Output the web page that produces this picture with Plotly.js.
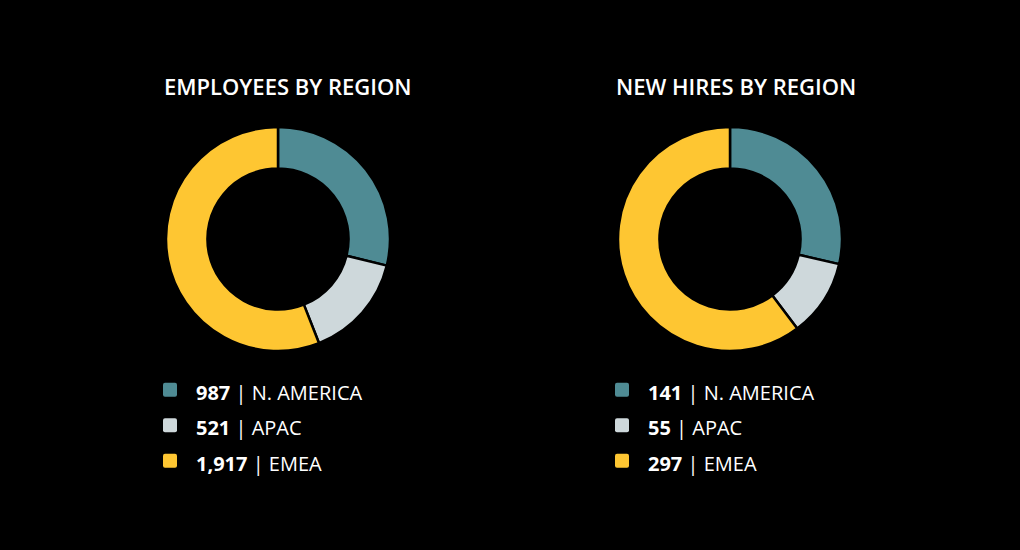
<!DOCTYPE html>
<html>
<head>
<meta charset="utf-8">
<script src="https://cdn.plot.ly/plotly-3.0.1.min.js"></script>
<style>html,body{margin:0;padding:0;background:#000;}#chart{width:1020px;height:550px;}</style>
</head>
<body>
<div id="chart"></div>
<script>
const regions = ["N. AMERICA", "APAC", "EMEA"];
const employees = [987, 521, 1917];
const newHires = [141, 55, 297];
const chartTitles = ["EMPLOYEES BY REGION", "NEW HIRES BY REGION"];
const colors = ["#4f8b94", "#ced8db", "#fec632"];

const FONT = "'Open Sans', 'Noto Sans', sans-serif";
function fmt(v) { return v.toLocaleString('en-US'); }
function mkLabels(vals) {
  return vals.map((v, i) => '<span style="font-size:20px"><b>' + fmt(v) + '</b> | ' + regions[i] + '</span>');
}
function mkTrace(vals, dom, legend) {
  return {
    type: 'pie',
    labels: mkLabels(vals),
    values: vals,
    sort: false,
    direction: 'clockwise',
    rotation: 0,
    hole: 0.63,
    textinfo: 'none',
    hoverinfo: 'skip',
    marker: { colors: colors, line: { color: '#000', width: 2.5 } },
    domain: dom,
    legend: legend
  };
}
const W = 1020, H = 550;
function dom(cx, cy, r) {
  return { x: [(cx - r) / W, (cx + r) / W], y: [1 - (cy + r) / H, 1 - (cy - r) / H] };
}
const data = [
  mkTrace(employees, dom(278, 239, 112), 'legend'),
  mkTrace(newHires, dom(730, 239, 112), 'legend2')
];
const legendBase = {
  bgcolor: 'rgba(0,0,0,0)',
  font: { family: FONT, size: 25, color: '#ffffff' },
  xanchor: 'left', yanchor: 'top', orientation: 'v', itemclick: false, itemdoubleclick: false,
  itemwidth: 42
};
const layout = {
  width: W, height: H,
  margin: { l: 0, r: 0, t: 0, b: 0 },
  paper_bgcolor: '#000', plot_bgcolor: '#000',
  font: { family: FONT, color: '#fff' },
  showlegend: true,
  legend: Object.assign({}, legendBase, { x: 144 / W, y: 1 - 367 / H }),
  legend2: Object.assign({}, legendBase, { x: 596 / W, y: 1 - 367 / H }),
  annotations: chartTitles.map((t, i) => ({
    text: t, xref: 'paper', yref: 'paper',
    x: [287.5, 736][i] / W, y: 1 - 86 / H, xanchor: 'center', yanchor: 'middle',
    showarrow: false,
    font: { family: FONT, size: 22, color: '#fff', weight: 600 }
  }))
};
Plotly.newPlot('chart', data, layout, { staticPlot: true, displayModeBar: false }).then(function (gd) {
  gd.querySelectorAll('.legendpoints path.legendpie').forEach(function (p) {
    p.setAttribute('d', 'M5,7H-5A2,2 0 0 1 -7,5V-5A2,2 0 0 1 -5,-7H5A2,2 0 0 1 7,-5V5A2,2 0 0 1 5,7Z');
    p.style.strokeWidth = '0px';
  });
});
</script>
</body>
</html>
